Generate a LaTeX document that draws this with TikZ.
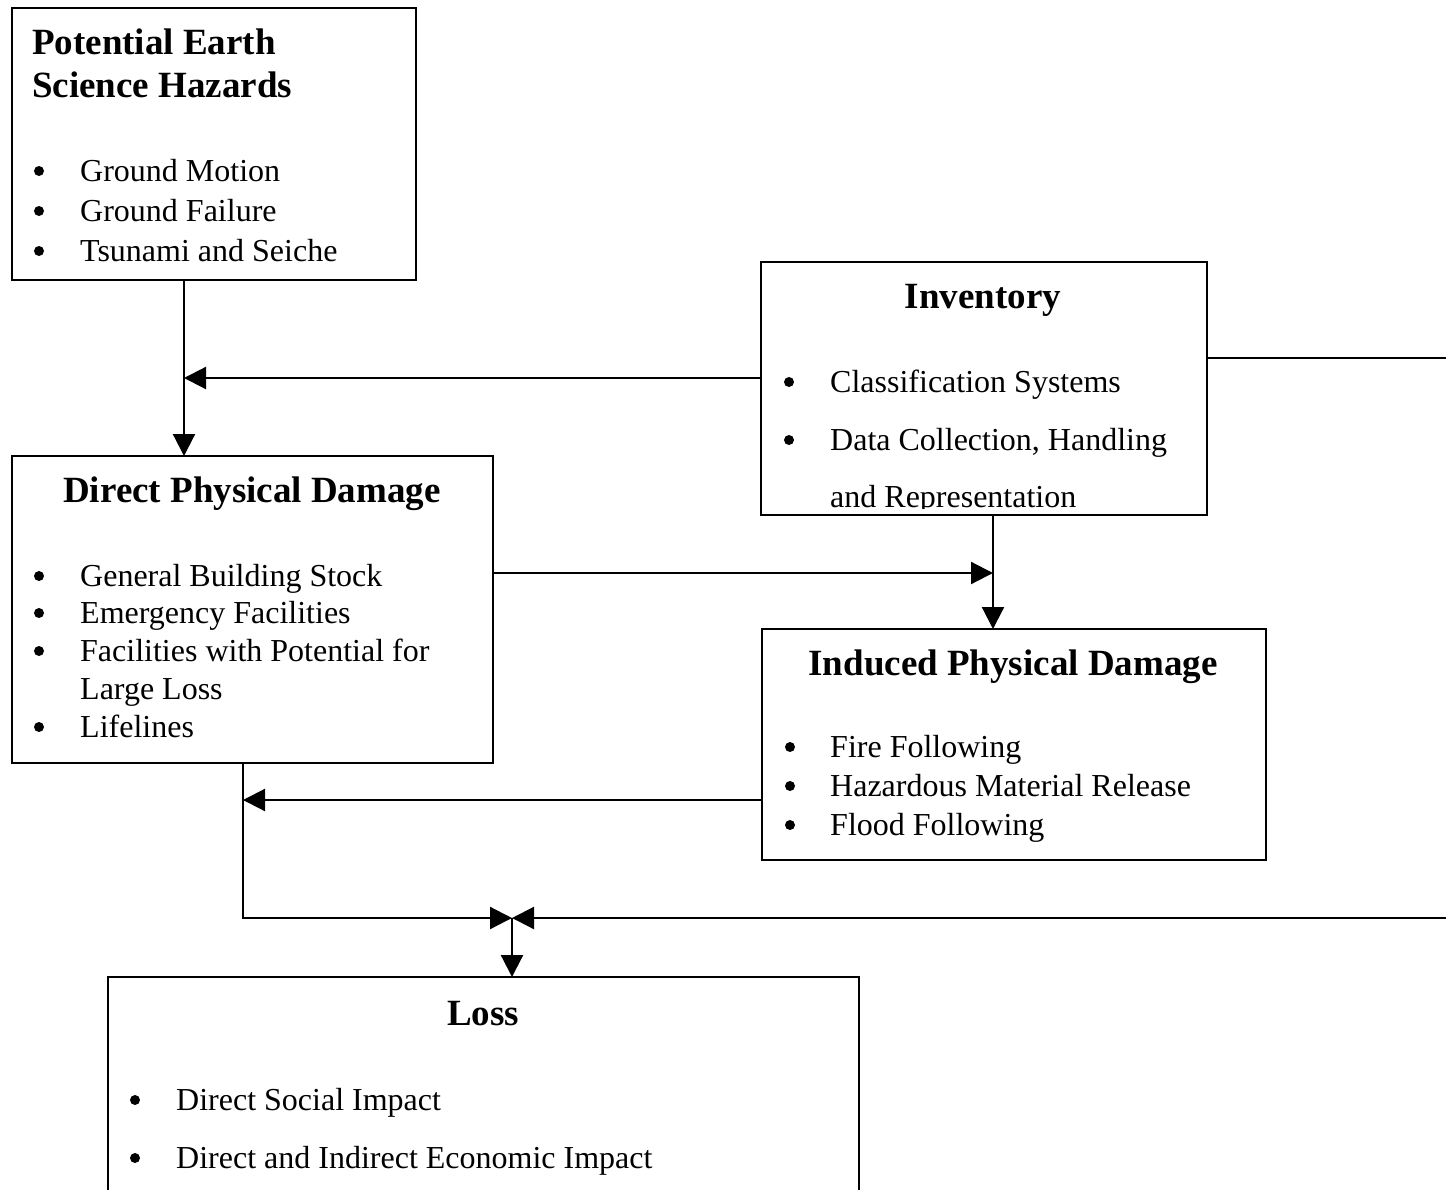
\documentclass[tikz,border=0pt]{standalone}
\usepackage{fontspec}
\setmainfont{Liberation Serif}
\usetikzlibrary{arrows.meta,calc}

\begin{document}
\begin{tikzpicture}[x=1pt,y=-1pt,
  box/.style={draw, line width=2.2pt, anchor=north west, inner sep=0pt, outer sep=0pt},
  ttl/.style={font=\fontsize{37}{43}\selectfont\bfseries, anchor=base, inner sep=0pt},
  ttlL/.style={ttl, anchor=base west},
  item/.style={font=\fontsize{32}{38}\selectfont, anchor=base west, inner sep=0pt},
  bul/.style={circle, fill, inner sep=0pt, minimum size=10pt},
  wire/.style={line width=2.2pt},
  arr/.style={wire, -{Triangle[length=22pt,width=22pt]}}]

% page frame
\clip (0,0) rectangle (1446,1189);
\fill[white] (0,0) rectangle (1446,1189);

% ---------- boxes ----------
\node[box, minimum width=404pt, minimum height=272pt] (haz) at (12,8) {};
\node[box, minimum width=446pt, minimum height=253pt] (inv) at (761,262) {};
\node[box, minimum width=481pt, minimum height=307pt] (dpd) at (12,456) {};
\node[box, minimum width=504pt, minimum height=231pt] (ipd) at (762,629) {};
\node[box, minimum width=751pt, minimum height=260pt] (loss) at (108,977) {};

% ---------- Potential Earth Science Hazards ----------
\node[ttlL] (hazT1) at (32,54) {Potential Earth};
\node[ttlL] (hazT2) at (32,97) {Science Hazards};
\node[bul] (hazB1) at (39,171) {};
\node[bul] (hazB2) at (39,211) {};
\node[bul] (hazB3) at (39,251) {};
\node[item] (hazI1) at (80,181) {Ground Motion};
\node[item] (hazI2) at (80,221) {Ground Failure};
\node[item] (hazI3) at (80,261) {Tsunami and Seiche};

% ---------- Inventory ----------
\node[ttl] (invT) at (983,308) {Inventory};
\node[bul] (invB1) at (789,382) {};
\node[bul] (invB2) at (789,440) {};
\node[item] (invI1) at (830,392) {Classification Systems};
\node[item] (invI2) at (830,450) {Data Collection, Handling};
% the last line runs past the text area and is cut at its baseline
\begin{scope}
  \clip (inv.north west) rectangle ($(inv.south east)+(0,-7)$);
  \node[item] (invI3) at (830,507) {and Representation};
\end{scope}

% ---------- Direct Physical Damage ----------
\node[ttl] (dpdT) at (252,502) {Direct Physical Damage};
\node[bul] (dpdB1) at (39,576) {};
\node[bul] (dpdB2) at (39,613) {};
\node[bul] (dpdB3) at (39,651) {};
\node[bul] (dpdB4) at (39,727) {};
\node[item] (dpdI1) at (80,586) {General Building Stock};
\node[item] (dpdI2) at (80,623) {Emergency Facilities};
\node[item] (dpdI3) at (80,661) {Facilities with Potential for};
\node[item] (dpdI3b) at (80,699) {Large Loss};
\node[item] (dpdI4) at (80,737) {Lifelines};

% ---------- Induced Physical Damage ----------
\node[ttl] (ipdT) at (1013,675) {Induced Physical Damage};
\node[bul] (ipdB1) at (790,747) {};
\node[bul] (ipdB2) at (790,786) {};
\node[bul] (ipdB3) at (790,825) {};
\node[item] (ipdI1) at (830,757) {Fire Following};
\node[item] (ipdI2) at (830,796) {Hazardous Material Release};
\node[item] (ipdI3) at (830,835) {Flood Following};

% ---------- Loss ----------
\node[ttl] (lossT) at (483,1025) {Loss};
\node[bul] (lossB1) at (135,1100) {};
\node[bul] (lossB2) at (135,1158) {};
\node[item] (lossI1) at (176,1110) {Direct Social Impact};
\node[item] (lossI2) at (176,1168) {Direct and Indirect Economic Impact};

% ---------- connection points ----------
\coordinate (hazOut) at ($(haz.south west)+(172,0)$);
\coordinate (invL)   at ($(inv.north west)+(0,116)$);
\coordinate (invR)   at ($(inv.north east)+(0,96)$);
\coordinate (invOut) at ($(inv.south west)+(232,0)$);
\coordinate (dpdR)   at ($(dpd.north east)+(0,117)$);
\coordinate (dpdOut) at ($(dpd.south west)+(231,0)$);
\coordinate (ipdL)   at ($(ipd.north west)+(0,171)$);
\coordinate (join)   at (512,918);
\coordinate (edgeUp) at (1446,358);
\coordinate (edgeLo) at (1446,918);

% ---------- connectors ----------
\draw[arr] (hazOut) -- (hazOut |- dpd.north);
\draw[arr] (invL) -- (invL -| hazOut);
\draw[arr] (dpdR) -- (dpdR -| invOut);
\draw[arr] (invOut) -- (invOut |- ipd.north);
\draw[arr] (ipdL) -- (ipdL -| dpdOut);
\draw[wire] (invR) -- (edgeUp);
\draw[arr] (dpdOut) |- (join);
\draw[arr] (edgeLo) -- (join);
\draw[arr] (join) -- (join |- loss.north);
\end{tikzpicture}
\end{document}
